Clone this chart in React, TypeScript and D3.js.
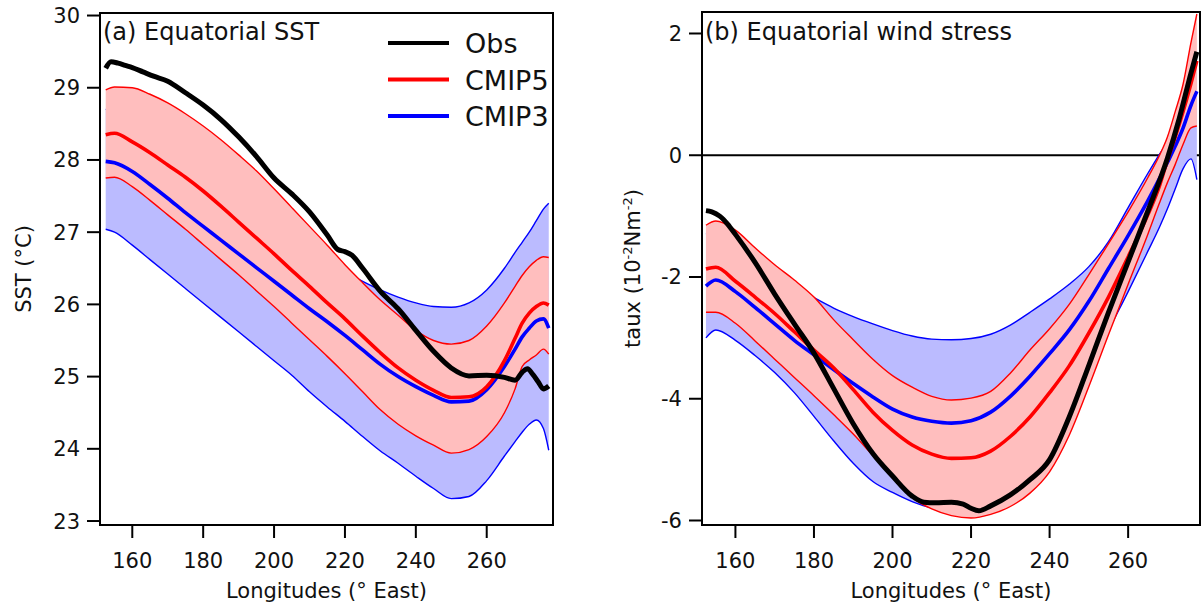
import React from 'react';
import * as d3 from 'd3';

// longitudes shared by the model ensemble curves (deg E)
const lonModel = [152.5, 155, 160, 165, 170, 175, 180, 185, 190, 195, 200, 205, 210, 215, 220, 225, 230, 235, 240, 245, 250, 255, 260, 265, 268, 270, 272, 274, 276, 277.5];

// (a) equatorial SST, degC
const sstCmip5Mean = [28.35, 28.37, 28.25, 28.1, 27.93, 27.76, 27.57, 27.36, 27.14, 26.92, 26.7, 26.47, 26.25, 26.02, 25.8, 25.56, 25.33, 25.12, 24.95, 24.81, 24.71, 24.72, 24.86, 25.22, 25.53, 25.74, 25.88, 25.97, 26.02, 25.99];
const sstCmip5Hi = [28.97, 29.01, 29.0, 28.91, 28.79, 28.64, 28.47, 28.28, 28.07, 27.85, 27.6, 27.34, 27.08, 26.82, 26.55, 26.3, 26.06, 25.85, 25.64, 25.5, 25.45, 25.5, 25.7, 26.02, 26.25, 26.4, 26.52, 26.61, 26.66, 26.65];
const sstCmip5Lo = [27.75, 27.76, 27.63, 27.44, 27.24, 27.04, 26.83, 26.62, 26.41, 26.19, 25.97, 25.74, 25.51, 25.28, 25.04, 24.79, 24.54, 24.34, 24.18, 24.05, 23.94, 23.99, 24.17, 24.5, 24.83, 25.14, 25.23, 25.3, 25.38, 25.31];
const sstCmip3Mean = [27.98, 27.96, 27.84, 27.66, 27.47, 27.27, 27.08, 26.89, 26.7, 26.51, 26.32, 26.13, 25.94, 25.76, 25.57, 25.37, 25.17, 25.0, 24.86, 24.74, 24.65, 24.66, 24.82, 25.14, 25.38, 25.55, 25.67, 25.77, 25.8, 25.67];
const sstCmip3Hi = [28.7, 28.68, 28.55, 28.38, 28.2, 28.02, 27.84, 27.66, 27.48, 27.3, 27.12, 26.95, 26.78, 26.6, 26.45, 26.32, 26.2, 26.1, 26.02, 25.97, 25.96, 26.02, 26.2, 26.5, 26.72, 26.86, 27.0, 27.16, 27.32, 27.4];
const sstCmip3Lo = [27.04, 27.0, 26.82, 26.62, 26.42, 26.22, 26.02, 25.82, 25.62, 25.42, 25.22, 25.02, 24.79, 24.58, 24.38, 24.17, 23.97, 23.8, 23.62, 23.45, 23.31, 23.34, 23.56, 23.9, 24.1, 24.23, 24.34, 24.4, 24.28, 23.98];
const sstObsLon = [152.5, 154, 156, 158, 160, 163, 166, 170, 175, 180, 185, 190, 195, 200, 205, 210, 215, 218, 220, 222, 225, 230, 235, 240, 245, 250, 255, 260, 265, 268, 270, 271.5, 273, 274.5, 276, 277.5];
const sstObs = [29.27, 29.36, 29.34, 29.31, 29.28, 29.22, 29.16, 29.09, 28.93, 28.76, 28.56, 28.32, 28.05, 27.75, 27.53, 27.28, 26.96, 26.76, 26.73, 26.68, 26.5, 26.18, 25.94, 25.64, 25.35, 25.12, 25.01, 25.02, 24.99, 24.95, 25.06, 25.11, 25.03, 24.93, 24.83, 24.87];

// (b) equatorial zonal wind stress, 10^-2 N m^-2
const tauCmip5Mean = [-1.87, -1.84, -2.07, -2.33, -2.6, -2.9, -3.2, -3.49, -3.85, -4.22, -4.52, -4.76, -4.91, -4.98, -4.97, -4.86, -4.62, -4.3, -3.9, -3.46, -2.92, -2.33, -1.67, -0.98, -0.5, -0.08, 0.3, 0.72, 1.18, 1.55];
const tauCmip5Hi = [-1.15, -1.08, -1.23, -1.52, -1.8, -2.05, -2.33, -2.7, -3.03, -3.35, -3.62, -3.81, -3.96, -4.02, -3.99, -3.88, -3.58, -3.2, -2.85, -2.45, -1.96, -1.45, -0.93, -0.37, 0.0, 0.3, 0.72, 1.17, 1.85, 2.32];
const tauCmip5Lo = [-2.58, -2.58, -2.76, -3.05, -3.35, -3.65, -3.95, -4.26, -4.58, -4.93, -5.27, -5.62, -5.81, -5.92, -5.96, -5.9, -5.77, -5.55, -5.2, -4.6, -3.8, -2.95, -2.12, -1.3, -0.78, -0.45, -0.15, 0.18, 0.45, 0.48];
const tauCmip3Mean = [-2.15, -2.05, -2.24, -2.5, -2.77, -3.04, -3.28, -3.52, -3.75, -3.97, -4.17, -4.3, -4.37, -4.4, -4.36, -4.22, -3.96, -3.63, -3.26, -2.87, -2.4, -1.86, -1.32, -0.75, -0.38, -0.12, 0.15, 0.45, 0.82, 1.05];
const tauCmip3Hi = [-1.3, -1.25, -1.38, -1.65, -1.92, -2.16, -2.34, -2.51, -2.65, -2.77, -2.88, -2.97, -3.02, -3.03, -3.01, -2.94, -2.79, -2.58, -2.36, -2.12, -1.83, -1.42, -0.86, -0.3, 0.02, 0.22, 0.52, 0.85, 1.25, 1.55];
const tauCmip3Lo = [-3.0, -2.87, -3.04, -3.29, -3.57, -3.9, -4.29, -4.69, -5.06, -5.36, -5.54, -5.69, -5.79, -5.82, -5.75, -5.58, -5.3, -4.92, -4.48, -4.0, -3.55, -2.88, -2.24, -1.58, -1.18, -0.88, -0.55, -0.22, -0.06, -0.4];
const tauObsLon = [152.5, 154, 156, 158, 160, 165, 170, 175, 180, 185, 190, 195, 200, 205, 208, 211, 215, 218, 220, 222, 225, 230, 235, 240, 245, 250, 255, 260, 265, 270, 273, 276, 277.5];
const tauObs = [-0.91, -0.93, -1.0, -1.13, -1.3, -1.76, -2.28, -2.77, -3.25, -3.83, -4.41, -4.9, -5.27, -5.6, -5.7, -5.71, -5.7, -5.73, -5.8, -5.84, -5.76, -5.58, -5.33, -5.0, -4.3, -3.45, -2.58, -1.75, -0.92, -0.05, 0.6, 1.35, 1.7];

const lonTicks = [160, 180, 200, 220, 240, 260];
const sstTicks = [23, 24, 25, 26, 27, 28, 29, 30];
const tauTicks = [-6, -4, -2, 0, 2];
const legendItems = [
  { name: 'Obs', color: '#000000' },
  { name: 'CMIP5', color: '#ff0000' },
  { name: 'CMIP3', color: '#0000ff' },
];

const FONT = '"DejaVu Sans", Verdana, sans-serif';
const RED = '#ff0000';
const BLUE = '#0000ff';
const RED_FILL = '#ffbebe';
const BLUE_FILL = '#bbbbff';

type Props = {
  left: number; right: number; top: number; bottom: number;
  xDomain: [number, number]; yDomain: [number, number];
  yTicks: number[];
  title: string;
  ylabel: React.ReactNode; ylabelX: number;
  c5: number[][]; c3: number[][];
  obsLon: number[]; obs: number[];
  zeroLine?: boolean; legend?: boolean;
};

function Panel(p: Props) {
  const x = d3.scaleLinear().domain(p.xDomain).range([p.left, p.right]);
  const y = d3.scaleLinear().domain(p.yDomain).range([p.bottom, p.top]);
  const idx = d3.range(lonModel.length);

  const band = (lo: number[], hi: number[]) =>
    d3.area<number>()
      .x(i => x(lonModel[i]))
      .y0(i => y(lo[i]))
      .y1(i => y(hi[i]))
      .curve(d3.curveMonotoneX)(idx) || '';
  const line = (xs: number[], ys: number[]) =>
    d3.line<number>()
      .x(i => x(xs[i]))
      .y(i => y(ys[i]))
      .curve(d3.curveMonotoneX)(d3.range(xs.length)) || '';

  const [c5m, c5lo, c5hi] = p.c5;
  const [c3m, c3lo, c3hi] = p.c3;
  const midX = (p.left + p.right) / 2;
  const midY = (p.top + p.bottom) / 2;

  return (
    <g>
      {p.zeroLine && (
        <line x1={p.left} x2={p.right} y1={y(0)} y2={y(0)} stroke="#000" strokeWidth={2} />
      )}
      <path d={band(c3lo, c3hi)} fill={BLUE_FILL} />
      <path d={line(lonModel, c3lo)} fill="none" stroke={BLUE} strokeWidth={1.4} />
      <path d={line(lonModel, c3hi)} fill="none" stroke={BLUE} strokeWidth={1.4} />
      <path d={band(c5lo, c5hi)} fill={RED_FILL} />
      <path d={line(lonModel, c5lo)} fill="none" stroke={RED} strokeWidth={1.4} />
      <path d={line(lonModel, c5hi)} fill="none" stroke={RED} strokeWidth={1.4} />
      <path d={line(lonModel, c3m)} fill="none" stroke={BLUE} strokeWidth={3.6} />
      <path d={line(lonModel, c5m)} fill="none" stroke={RED} strokeWidth={3.6} />
      <path d={line(p.obsLon, p.obs)} fill="none" stroke="#000" strokeWidth={5} strokeLinejoin="round" />

      {/* frame */}
      <rect x={p.left} y={p.top} width={p.right - p.left} height={p.bottom - p.top}
        fill="none" stroke="#000" strokeWidth={2} />

      {/* y axis */}
      {p.yTicks.map(t => (
        <g key={'y' + t}>
          <line x1={p.left - 13} x2={p.left} y1={y(t)} y2={y(t)} stroke="#000" strokeWidth={2} />
          <text x={p.left - 20} y={y(t) + 7.5} textAnchor="end" fontSize={21} fontFamily={FONT} fill="#111">
            {t}
          </text>
        </g>
      ))}

      {/* x axis */}
      {lonTicks.map(t => (
        <g key={'x' + t}>
          <line x1={x(t)} x2={x(t)} y1={p.bottom} y2={p.bottom + 13} stroke="#000" strokeWidth={2} />
          <text x={x(t)} y={568} textAnchor="middle" fontSize={21} fontFamily={FONT} fill="#111">
            {t}
          </text>
        </g>
      ))}
      <text x={midX} y={598} textAnchor="middle" fontSize={21} fontFamily={FONT} fill="#111">
        Longitudes (° East)
      </text>
      <text transform={`translate(${p.ylabelX},${midY}) rotate(-90)`} textAnchor="middle"
        fontSize={21} fontFamily={FONT} fill="#111">
        {p.ylabel}
      </text>

      <text x={p.left + 3} y={40} fontSize={24} fontFamily={FONT} fill="#111">{p.title}</text>

      {p.legend && legendItems.map((d, i) => (
        <g key={d.name} transform={`translate(388,${43 + i * 36.5})`}>
          <line x1={0} x2={61} y1={0} y2={0} stroke={d.color} strokeWidth={4} />
          <text x={77} y={10} fontSize={27} fontFamily={FONT} fill="#111">{d.name}</text>
        </g>
      ))}
    </g>
  );
}

export default function App() {
  return (
    <svg width={1202} height={608} style={{ position: 'absolute', left: 0, top: 0, background: '#fff' }}>
      <rect width={1202} height={608} fill="#fff" />
      <Panel
        left={100} right={553} top={13} bottom={525}
        xDomain={[150.89, 278.7]} yDomain={[22.945, 30.035]}
        yTicks={sstTicks}
        title="(a) Equatorial SST"
        ylabel="SST (°C)" ylabelX={31}
        c5={[sstCmip5Mean, sstCmip5Lo, sstCmip5Hi]}
        c3={[sstCmip3Mean, sstCmip3Lo, sstCmip3Hi]}
        obsLon={sstObsLon} obs={sstObs}
        legend
      />
      <Panel
        left={702} right={1200} top={12} bottom={525}
        xDomain={[151.49, 278.3]} yDomain={[-6.074, 2.353]}
        yTicks={tauTicks}
        title="(b) Equatorial wind stress"
        ylabel={<>taux (10<tspan dy={-8} fontSize={13}>-2</tspan><tspan dy={8}>Nm</tspan><tspan dy={-8} fontSize={13}>-2</tspan><tspan dy={8}>)</tspan></>}
        ylabelX={640}
        c5={[tauCmip5Mean, tauCmip5Lo, tauCmip5Hi]}
        c3={[tauCmip3Mean, tauCmip3Lo, tauCmip3Hi]}
        obsLon={tauObsLon} obs={tauObs}
        zeroLine
      />
    </svg>
  );
}
